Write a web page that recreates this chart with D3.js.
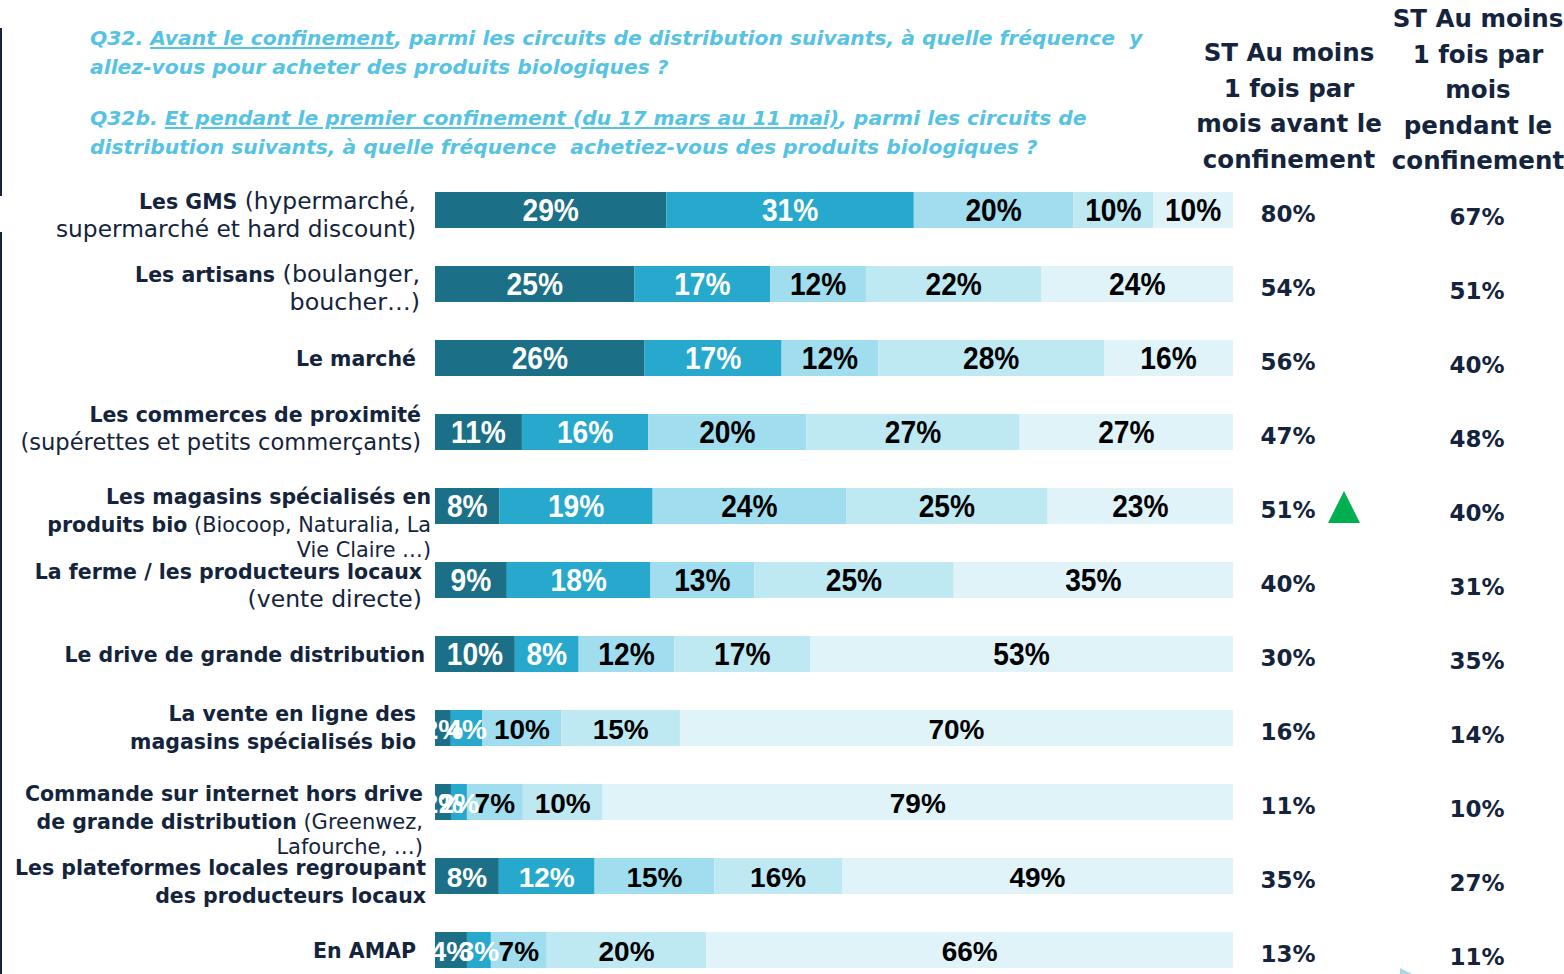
<!DOCTYPE html>
<html>
<head>
<meta charset="utf-8">
<script src="https://cdn.jsdelivr.net/npm/d3@7"></script>
<style>
  body { margin: 0; background: #fff; }
  svg { display: block; }
</style>
</head>
<body>
<div id="chart"></div>
<script>
// data
const categories = ["GMS", "artisans", "marche", "proximite", "bio", "ferme", "drive", "ligne", "internet", "plateformes", "amap"];
const labelLines = [
  [[["Les GMS", 1], [" (hypermarché,", 0]], [["supermarché et hard discount)", 0]]],
  [[["Les artisans", 1], [" (boulanger,", 0]], [["boucher…)", 0]]],
  [[["Le marché", 1]]],
  [[["Les commerces de proximité", 1]], [["(supérettes et petits commerçants)", 0]]],
  [[["Les magasins spécialisés en", 1]], [["produits bio", 1], [" (Biocoop, Naturalia, La", 0]], [["Vie Claire …)", 0]]],
  [[["La ferme / les producteurs locaux", 1]], [["(vente directe)", 0]]],
  [[["Le drive de grande distribution", 1]]],
  [[["La vente en ligne des", 1]], [["magasins spécialisés bio", 1]]],
  [[["Commande sur internet hors drive", 1]], [["de grande distribution", 1], [" (Greenwez,", 0]], [["Lafourche, …)", 0]]],
  [[["Les plateformes locales regroupant", 1]], [["des producteurs locaux", 1]]],
  [[["En AMAP", 1]]]
];
const freqKeys = ["f1", "f2", "f3", "f4", "f5"];
const f1 = [29, 25, 26, 11, 8, 9, 10, 2, 2, 8, 4];
const f2 = [31, 17, 17, 16, 19, 18, 8, 4, 2, 12, 3];
const f3 = [20, 12, 12, 20, 24, 13, 12, 10, 7, 15, 7];
const f4 = [10, 22, 28, 27, 25, 25, 17, 15, 10, 16, 20];
const f5 = [10, 24, 16, 27, 23, 35, 53, 70, 79, 49, 66];
const stAvant = [80, 54, 56, 47, 51, 40, 30, 16, 11, 35, 13];
const stPendant = [67, 51, 40, 48, 40, 31, 35, 14, 10, 27, 11];
const sigUp = [0, 0, 0, 0, 1, 0, 0, 0, 0, 0, 0];
const colHeadAvant = ["ST Au moins", "1 fois par", "mois avant le", "confinement"];
const colHeadPendant = ["ST Au moins", "1 fois par", "mois", "pendant le", "confinement"];

const W = 1564, H = 974;
const navy = "#14243c";
const qBlue = "#57c3e2";
const colors = ["#1b6f86", "#26a9cc", "#a0ddee", "#bee8f2", "#dff3f8"];
const txtColors = ["#fff", "#fff", "#000", "#000", "#000"];
const labelFont = "'DejaVu Sans', sans-serif";

const svg = d3.select("#chart").append("svg").attr("width", W).attr("height", H);

// left rule
svg.append("line").attr("x1", 1).attr("x2", 1).attr("y1", 28).attr("y2", 196)
  .attr("stroke", navy).attr("stroke-width", 2);
svg.append("line").attr("x1", 1).attr("x2", 1).attr("y1", 232).attr("y2", H)
  .attr("stroke", navy).attr("stroke-width", 2);

// question header
const qLines = [
  { y: 45, parts: [["Q32. ", 0], ["Avant le confinement", 1], [", parmi les circuits de distribution suivants, à quelle fréquence  y", 0]] },
  { y: 74, parts: [["allez-vous pour acheter des produits biologiques ?", 0]] },
  { y: 125, parts: [["Q32b. ", 0], ["Et pendant le premier confinement (du 17 mars au 11 mai)", 1], [", parmi les circuits de", 0]] },
  { y: 154, parts: [["distribution suivants, à quelle fréquence  achetiez-vous des produits biologiques ?", 0]] }
];
qLines.forEach(l => {
  const t = svg.append("text").attr("x", 90).attr("y", l.y)
    .attr("font-family", labelFont).attr("font-size", 20.3).attr("font-style", "italic")
    .attr("font-weight", "bold").attr("fill", qBlue).attr("xml:space", "preserve")
    .style("white-space", "pre");
  l.parts.forEach(p => {
    t.append("tspan").text(p[0]).attr("text-decoration", p[1] ? "underline" : null);
  });
});

// column headers
colHeadAvant.forEach((s, i) => {
  svg.append("text").attr("x", 1289).attr("y", 61 + i * 35.5).attr("text-anchor", "middle")
    .attr("font-family", labelFont).attr("font-weight", "bold").attr("font-size", 24.5)
    .attr("fill", navy).text(s);
});
colHeadPendant.forEach((s, i) => {
  svg.append("text").attr("x", 1478).attr("y", 27 + i * 35.5).attr("text-anchor", "middle")
    .attr("font-family", labelFont).attr("font-weight", "bold").attr("font-size", 24.5)
    .attr("fill", navy).text(s);
});

// scales
const rows = categories.map((c, i) => ({ cat: c, f1: f1[i], f2: f2[i], f3: f3[i], f4: f4[i], f5: f5[i] }));
const stack = d3.stack().keys(freqKeys).offset(d3.stackOffsetExpand);
const series = stack(rows);
const x = d3.scaleLinear().domain([0, 1]).range([435, 1233]);
const y = d3.scalePoint().domain(categories).range([210, 950]);
const barH = 36;

const layers = svg.append("g").selectAll("g").data(series).enter().append("g")
  .attr("fill", (d, i) => colors[i]);
layers.selectAll("rect").data(d => d).enter().append("rect")
  .attr("x", d => x(d[0]))
  .attr("y", d => y(d.data.cat) - barH / 2)
  .attr("width", d => x(d[1]) - x(d[0]))
  .attr("height", barH);

// segment labels
series.forEach((s, k) => {
  s.forEach((d, r) => {
    const cx = (x(d[0]) + x(d[1])) / 2;
    const cy = y(d.data.cat) + 11;
    const narrow = r < 7;
    svg.append("text")
      .attr("transform", "translate(" + cx + "," + cy + ")" + (narrow ? " scale(0.88,1)" : ""))
      .attr("text-anchor", "middle")
      .attr("font-family", "'Liberation Sans', Arial, sans-serif")
      .attr("font-weight", "bold")
      .attr("font-size", narrow ? 32 : 28)
      .attr("fill", txtColors[k])
      .text(d.data[freqKeys[k]] + "%");
  });
});

// category labels
const labelRight = [416, 420, 416, 421, 431, 422, 425, 416, 423, 426, 416];
const labelTop = [-9, -10, 0, -18, -10, -9, 0, -15, -9, -9, 0];
const regSize = [23.3, 23.8, 23, 22.6, 20.8, 23.5, 23, 23, 21, 23, 23];
const lineStep = 28;
labelLines.forEach((lines, r) => {
  const top = y(categories[r]) + labelTop[r];
  lines.forEach((parts, li) => {
    const t = svg.append("text").attr("x", labelRight[r])
      .attr("y", top + li * lineStep + 8 - (li === 2 ? 3 : 0))
      .attr("text-anchor", "end")
      .attr("font-family", labelFont).attr("fill", navy);
    parts.forEach(p => {
      t.append("tspan").text(p[0])
        .attr("font-weight", p[1] ? "bold" : "normal")
        .attr("font-size", p[1] ? 20.5 : regSize[r]);
    });
  });
});

// ST columns
categories.forEach((c, r) => {
  const cy = y(c);
  svg.append("text").attr("x", 1288).attr("y", cy + 12).attr("text-anchor", "middle")
    .attr("font-family", labelFont).attr("font-weight", "bold").attr("font-size", 23)
    .attr("fill", navy).text(stAvant[r] + "%");
  svg.append("text").attr("x", 1477).attr("y", cy + 15).attr("text-anchor", "middle")
    .attr("font-family", labelFont).attr("font-weight", "bold").attr("font-size", 23)
    .attr("fill", navy).text(stPendant[r] + "%");
  if (sigUp[r]) {
    svg.append("path")
      .attr("transform", "translate(1344," + cy + ")")
      .attr("d", "M-16,17L16,17L0,-15Z")
      .attr("fill", "#00b050");
  }
});

// small decorative arrow at bottom
svg.append("path").attr("d", "M1400,968L1412,974L1400,974Z").attr("fill", "#a8d8e6");
</script>
</body>
</html>
